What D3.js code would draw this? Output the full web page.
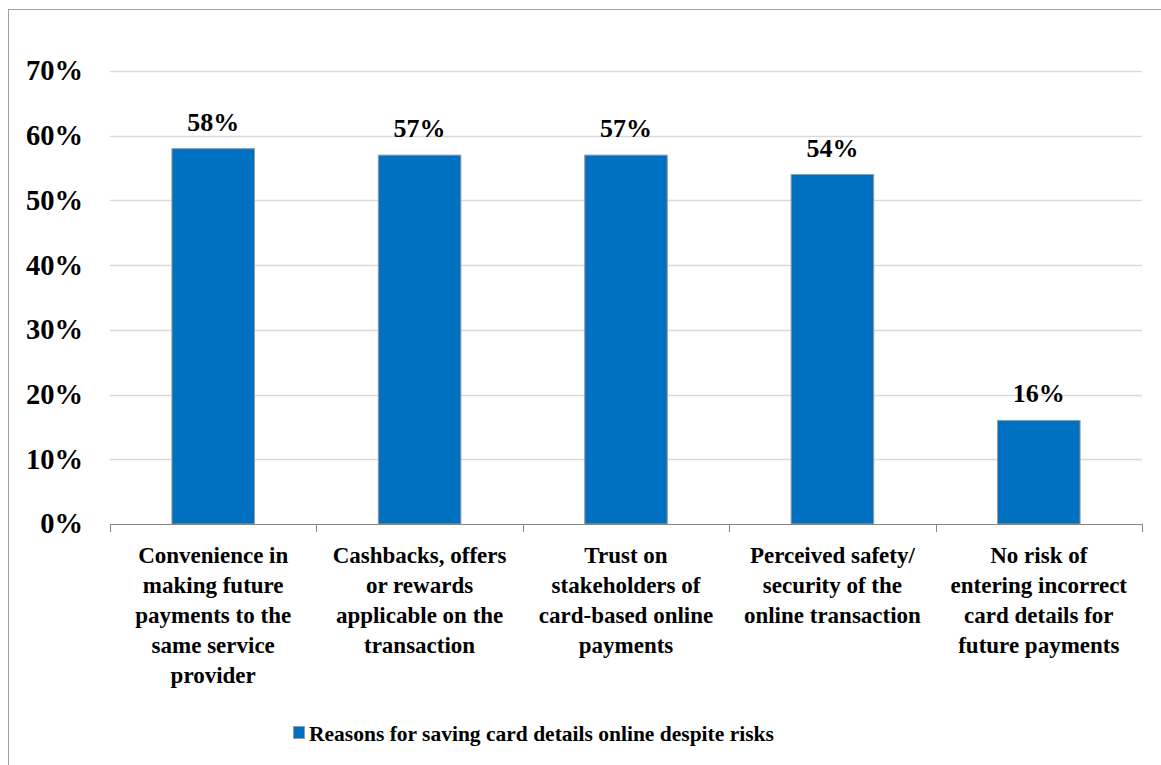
<!DOCTYPE html>
<html>
<head>
<meta charset="utf-8">
<script src="https://cdnjs.cloudflare.com/ajax/libs/d3/7.8.5/d3.min.js"></script>
<style>
  body { margin: 0; background: #fff; }
</style>
</head>
<body>
<div id="chart"></div>
<script>
const categories = ["c1", "c2", "c3", "c4", "c5"];
const categoryLines = [
  ["Convenience in", "making future", "payments to the", "same service", "provider"],
  ["Cashbacks, offers", "or rewards", "applicable on the", "transaction"],
  ["Trust on", "stakeholders of", "card-based online", "payments"],
  ["Perceived safety/", "security of the", "online transaction"],
  ["No risk of", "entering incorrect", "card details for", "future payments"]
];
const values = [58, 57, 57, 54, 16];
const yTicks = [0, 10, 20, 30, 40, 50, 60, 70];
const seriesName = "Reasons for saving card details online despite risks";

const W = 1161, H = 765;
const plot = { left: 110, right: 1142, top: 71, bottom: 524 };
const font = "'Liberation Serif', 'DejaVu Serif', serif";

const svg = d3.select("#chart").append("svg")
  .attr("width", W)
  .attr("height", H)
  .attr("font-family", font)
  .attr("font-weight", "bold");

// outer frame
svg.append("rect")
  .attr("x", 8.5).attr("y", 9.5)
  .attr("width", W + 20).attr("height", H + 20)
  .attr("fill", "none")
  .attr("stroke", "#a0a0a0")
  .attr("stroke-width", 1);

const x = d3.scaleBand().domain(categories).range([plot.left, plot.right]).padding(0);
const y = d3.scaleLinear().domain([0, 70]).range([plot.bottom, plot.top]);

// gridlines
svg.append("g").selectAll("line")
  .data(yTicks.filter(d => d > 0))
  .join("line")
  .attr("x1", plot.left).attr("x2", plot.right)
  .attr("y1", d => Math.round(y(d)) + 0.5).attr("y2", d => Math.round(y(d)) + 0.5)
  .attr("stroke", "#d9d9d9")
  .attr("stroke-width", 1.5);

// y labels
svg.append("g").selectAll("text")
  .data(yTicks)
  .join("text")
  .attr("x", 83)
  .attr("y", d => y(d))
  .attr("dy", "0.33em")
  .attr("text-anchor", "end")
  .attr("font-size", 28.5)
  .text(d => d + "%");

// bars
const barW = x.bandwidth() * 0.4;
svg.append("g").selectAll("rect")
  .data(values)
  .join("rect")
  .attr("x", (d, i) => x(categories[i]) + (x.bandwidth() - barW) / 2)
  .attr("y", d => y(d))
  .attr("width", barW)
  .attr("height", d => y(0) - y(d))
  .attr("fill", "#0070c0")
  .attr("stroke", "#9a9a9a")
  .attr("stroke-width", 1);

// data labels
svg.append("g").selectAll("text")
  .data(values)
  .join("text")
  .attr("x", (d, i) => x(categories[i]) + x.bandwidth() / 2)
  .attr("y", d => y(d) - 18)
  .attr("text-anchor", "middle")
  .attr("font-size", 26)
  .text(d => d + "%");

// x axis line and ticks between categories
const axis = svg.append("g");
axis.append("line")
  .attr("x1", plot.left).attr("x2", plot.right)
  .attr("y1", plot.bottom + 0.5).attr("y2", plot.bottom + 0.5)
  .attr("stroke", "#868686");
const bounds = categories.map(c => x(c)).concat([plot.right]);
axis.selectAll(".tick")
  .data(bounds)
  .join("line")
  .attr("class", "tick")
  .attr("x1", d => Math.round(d) + 0.5).attr("x2", d => Math.round(d) + 0.5)
  .attr("y1", plot.bottom).attr("y2", plot.bottom + 8)
  .attr("stroke", "#868686");

// category labels
categories.forEach((c, i) => {
  const t = svg.append("text")
    .attr("text-anchor", "middle")
    .attr("font-size", 23);
  categoryLines[i].forEach((ln, j) => {
    t.append("tspan")
      .attr("x", x(c) + x.bandwidth() / 2)
      .attr("y", 563 + j * 30)
      .text(ln);
  });
});

// legend
svg.append("rect")
  .attr("x", 293.5).attr("y", 726.5)
  .attr("width", 11).attr("height", 12)
  .attr("fill", "#0070c0")
  .attr("stroke", "#9a9a9a");
svg.append("text")
  .attr("x", 309)
  .attr("y", 741)
  .attr("font-size", 21.5)
  .text(seriesName);
</script>
</body>
</html>
